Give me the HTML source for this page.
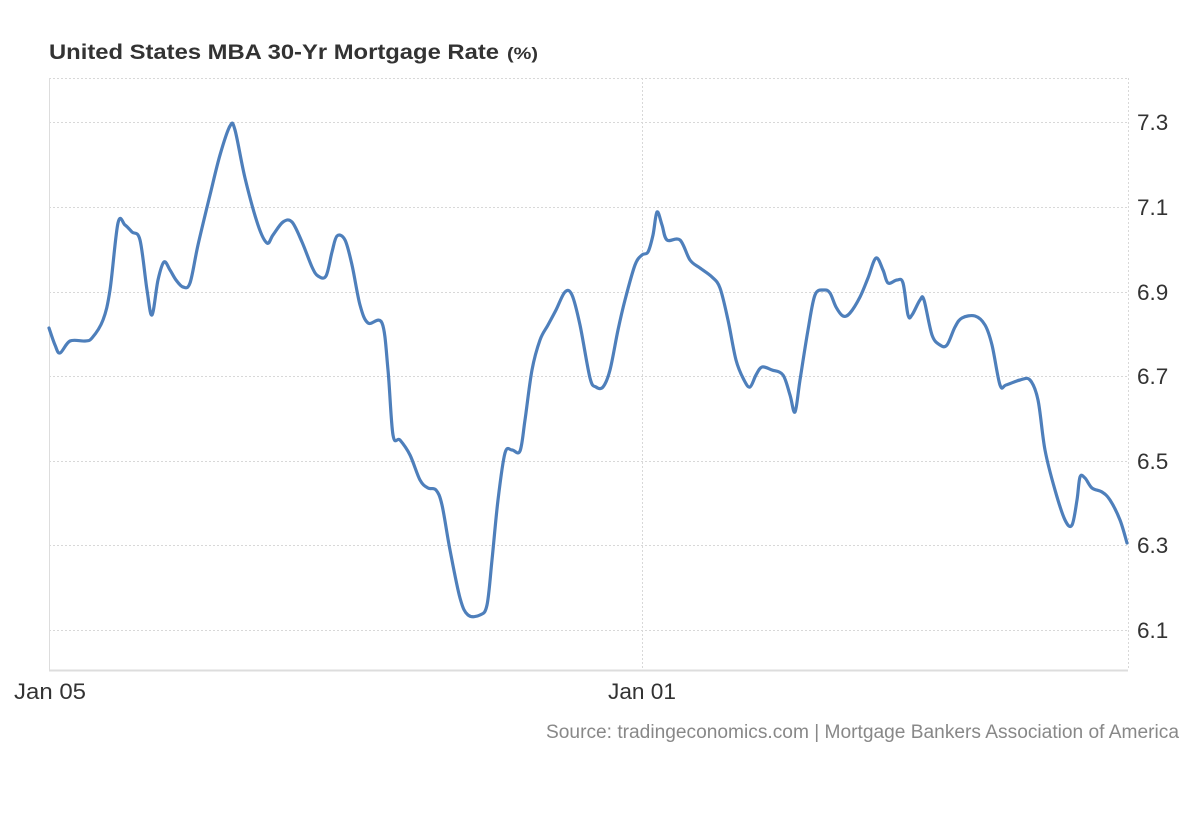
<!DOCTYPE html>
<html><head><meta charset="utf-8"><style>
body{margin:0;background:#fff;width:1200px;height:820px;overflow:hidden;font-family:"Liberation Sans",Arial,sans-serif}
</style></head><body>
<svg width="1200" height="820" xmlns="http://www.w3.org/2000/svg" font-family="Liberation Sans, Arial, sans-serif">
<text x="49" y="59" font-size="21" font-weight="bold" fill="#333" textLength="450" lengthAdjust="spacingAndGlyphs">United States MBA 30-Yr Mortgage Rate</text>
<text x="507" y="59" font-size="17" font-weight="bold" fill="#333" textLength="31" lengthAdjust="spacingAndGlyphs">(%)</text>
<g stroke="#d8d8d8" stroke-width="1" stroke-dasharray="2,2">
<line x1="49" y1="78.5" x2="1128" y2="78.5"/>
<line x1="49" y1="122.5" x2="1128" y2="122.5"/>
<line x1="49" y1="207.5" x2="1128" y2="207.5"/>
<line x1="49" y1="292.5" x2="1128" y2="292.5"/>
<line x1="49" y1="376.5" x2="1128" y2="376.5"/>
<line x1="49" y1="461.5" x2="1128" y2="461.5"/>
<line x1="49" y1="545.5" x2="1128" y2="545.5"/>
<line x1="49" y1="630.5" x2="1128" y2="630.5"/>
<line x1="642.5" y1="78" x2="642.5" y2="670"/>
<line x1="1128.5" y1="78" x2="1128.5" y2="670"/>
</g>
<line x1="49.5" y1="78" x2="49.5" y2="671" stroke="#ddd" stroke-width="1"/>
<line x1="49" y1="670.5" x2="1128" y2="670.5" stroke="#ddd" stroke-width="2"/>
<g font-size="22.5" fill="#333">
<text x="1137" y="130">7.3</text><text x="1137" y="215">7.1</text><text x="1137" y="300">6.9</text>
<text x="1137" y="384">6.7</text><text x="1137" y="469">6.5</text><text x="1137" y="553">6.3</text>
<text x="1137" y="638">6.1</text>
</g>
<g font-size="22" fill="#333">
<text x="14" y="699" textLength="72" lengthAdjust="spacingAndGlyphs">Jan 05</text><text x="608" y="699" textLength="68" lengthAdjust="spacingAndGlyphs">Jan 01</text>
</g>
<text x="1179" y="738" font-size="19" fill="#888" text-anchor="end" textLength="633" lengthAdjust="spacingAndGlyphs">Source: tradingeconomics.com | Mortgage Bankers Association of America</text>
<path id="ln" fill="none" stroke="#4e7fbb" stroke-width="3.2" stroke-linejoin="round" stroke-linecap="round" d=""/>
</svg>
<script>
var s="49,328 55,345 60,353 70,341 85,341 92,338 103,320 110,290 118,223 125,225 132,232 140,240 147,290 152,315 158,280 164,262 170,270 176,280 183,287 190,283 198,245 210,195 220,155 230,126 235,130 245,178 258,225 267,243 273,235 283,222 292,222 302,242 312,267 318,276 326,276 332,252 337,236 345,240 352,265 360,305 368,323 382,323 388,370 393,435 400,440 410,455 420,480 428,488 436,490 442,505 450,550 460,598 468,615 480,615 487,605 492,560 498,500 505,453 512,450 520,451 525,420 532,370 540,340 548,325 556,310 565,292 572,295 580,325 590,378 596,387 603,387 610,370 618,330 625,300 635,265 642,255 648,252 653,235 657,212 662,225 667,240 680,240 690,260 700,268 712,277 720,288 728,320 736,360 744,380 750,387 756,375 762,367 772,370 783,375 790,395 795,412 800,380 808,330 815,295 824,290 830,293 836,307 843,316 850,313 860,297 868,278 876,258 883,270 888,283 897,280 903,283 908,315 912,315 920,300 924,300 932,335 940,345 947,345 955,327 962,318 975,316 985,325 992,345 1000,385 1006,385 1020,380 1030,380 1038,400 1045,450 1055,490 1065,520 1072,525 1077,500 1080,477 1085,478 1092,488 1102,492 1110,500 1120,520 1127,543";
var p=s.split(" ").map(function(a){return a.split(",").map(Number)});
var d="M"+p[0][0]+","+p[0][1];
for(var i=0;i<p.length-1;i++){var p0=p[Math.max(0,i-1)],p1=p[i],p2=p[i+1],p3=p[Math.min(p.length-1,i+2)];var t=6;
d+=" C"+(p1[0]+(p2[0]-p0[0])/t)+","+(p1[1]+(p2[1]-p0[1])/t)+" "+(p2[0]-(p3[0]-p1[0])/t)+","+(p2[1]-(p3[1]-p1[1])/t)+" "+p2[0]+","+p2[1];}
document.getElementById("ln").setAttribute("d",d);
</script>
</body></html>
